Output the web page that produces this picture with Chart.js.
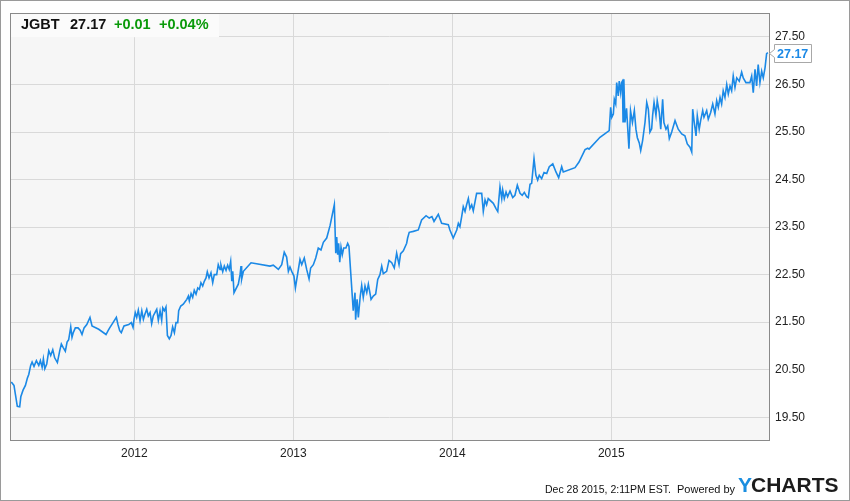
<!DOCTYPE html>
<html>
<head>
<meta charset="utf-8">
<script src="https://cdn.jsdelivr.net/npm/chart.js@4.4.1/dist/chart.umd.min.js"></script>
<style>
html,body{margin:0;padding:0;background:#fff;}
canvas{display:block;}
</style>
</head>
<body>
<canvas id="c" width="850" height="501"></canvas>
<script>
// ---- data (decimal years, JGBT price) ----
const dates2011 = [2011.226,2011.243,2011.252,2011.264,2011.279,2011.286,2011.300,2011.315,2011.327,2011.336,2011.348,2011.357,2011.369,2011.384,2011.399,2011.409,2011.420,2011.428,2011.437,2011.449,2011.462,2011.474,2011.487,2011.499,2011.516,2011.531,2011.541,2011.552,2011.566,2011.577,2011.587,2011.600,2011.608,2011.616,2011.629,2011.646,2011.659,2011.671,2011.684,2011.701,2011.721,2011.734,2011.776,2011.822,2011.835,2011.845,2011.866,2011.887,2011.897,2011.908,2011.918,2011.935,2011.965,2011.981,2011.992,2011.998];
const prices2011 = [20.24,20.17,19.98,19.73,19.72,19.93,20.07,20.17,20.32,20.40,20.59,20.66,20.57,20.69,20.59,20.69,20.55,20.73,20.52,20.62,20.90,20.80,20.92,20.75,20.65,20.90,21.04,20.97,20.89,21.08,21.13,21.40,21.18,21.28,21.38,21.38,21.33,21.24,21.38,21.45,21.60,21.42,21.35,21.24,21.32,21.38,21.49,21.60,21.45,21.32,21.28,21.42,21.45,21.49,21.39,21.56];

const dates2012 = [2012.006,2012.015,2012.025,2012.036,2012.047,2012.057,2012.067,2012.078,2012.088,2012.099,2012.109,2012.119,2012.130,2012.141,2012.151,2012.162,2012.172,2012.179,2012.189,2012.199,2012.208,2012.220,2012.231,2012.241,2012.252,2012.262,2012.273,2012.279,2012.292,2012.308,2012.319,2012.330,2012.340,2012.346,2012.357,2012.367,2012.377,2012.388,2012.399,2012.409,2012.419,2012.430,2012.440,2012.451,2012.459,2012.470,2012.482,2012.493,2012.503,2012.518,2012.528,2012.539,2012.545,2012.556,2012.566,2012.577,2012.587,2012.597,2012.606,2012.613,2012.619,2012.627,2012.654,2012.665,2012.671,2012.675,2012.686,2012.734,2012.853,2012.874,2012.906,2012.927,2012.943,2012.958,2012.969,2012.979,2012.990];
const prices2012 = [21.70,21.60,21.75,21.53,21.74,21.56,21.67,21.77,21.63,21.70,21.47,21.63,21.70,21.77,21.54,21.74,21.54,21.80,21.74,21.82,21.22,21.15,21.22,21.40,21.28,21.49,21.49,21.74,21.84,21.88,21.93,21.98,22.05,21.95,22.10,22.02,22.17,22.09,22.22,22.19,22.33,22.26,22.36,22.43,22.56,22.43,22.54,22.33,22.50,22.50,22.71,22.61,22.70,22.56,22.68,22.59,22.70,22.61,22.78,22.36,22.57,22.12,22.30,22.50,22.68,22.40,22.57,22.75,22.68,22.70,22.61,22.71,22.97,22.87,22.57,22.66,22.57];

const dates2013 = [2013.004,2013.013,2013.025,2013.042,2013.053,2013.069,2013.084,2013.099,2013.109,2013.126,2013.141,2013.157,2013.174,2013.189,2013.210,2013.231,2013.258,2013.267,2013.273,2013.279,2013.285,2013.292,2013.300,2013.308,2013.317,2013.331,2013.342,2013.350,2013.377,2013.388,2013.392,2013.401,2013.409,2013.421,2013.430,2013.440,2013.451,2013.462,2013.472,2013.489,2013.503,2013.518,2013.531,2013.545,2013.556,2013.566,2013.587,2013.602,2013.619,2013.635,2013.650,2013.665,2013.675,2013.692,2013.713,2013.719,2013.729,2013.755,2013.786,2013.807,2013.835,2013.855,2013.872,2013.885,2013.912,2013.933,2013.975,2013.985];
const prices2013 = [22.47,22.22,22.47,22.82,22.71,22.85,22.61,22.41,22.64,22.71,22.85,23.06,23.02,23.18,23.27,23.53,23.97,22.95,23.29,22.92,23.16,22.76,23.08,22.92,23.06,23.06,23.16,23.10,21.74,22.12,21.55,21.98,21.60,22.05,22.27,22.02,22.26,22.12,22.30,21.98,22.05,22.09,22.40,22.50,22.68,22.52,22.57,22.80,22.75,22.64,22.95,22.71,22.94,23.00,23.16,23.27,23.39,23.41,23.44,23.65,23.74,23.69,23.72,23.62,23.77,23.58,23.55,23.44];

const dates2014 = [2014.006,2014.028,2014.038,2014.048,2014.059,2014.069,2014.080,2014.090,2014.101,2014.111,2014.122,2014.132,2014.153,2014.185,2014.195,2014.206,2014.216,2014.226,2014.258,2014.275,2014.286,2014.300,2014.311,2014.317,2014.327,2014.338,2014.348,2014.363,2014.380,2014.394,2014.409,2014.426,2014.440,2014.453,2014.468,2014.478,2014.489,2014.499,2014.514,2014.526,2014.537,2014.547,2014.562,2014.577,2014.594,2014.610,2014.632,2014.652,2014.669,2014.688,2014.698,2014.772,2014.797,2014.835,2014.852,2014.860,2014.929,2014.987,2014.996];
const prices2014 = [23.27,23.44,23.58,23.51,23.72,23.93,23.83,23.97,24.10,23.89,23.97,23.84,24.21,24.21,23.83,24.07,23.97,24.10,24.00,23.89,23.83,24.35,24.10,24.28,24.10,24.24,24.14,24.26,24.12,24.17,24.38,24.21,24.17,24.23,24.14,24.12,24.40,24.42,24.94,24.59,24.49,24.59,24.52,24.65,24.63,24.77,24.83,24.66,24.54,24.77,24.66,24.75,24.87,25.13,25.16,25.14,25.39,25.53,26.02];

const dates2015 = [2015.003,2015.013,2015.019,2015.028,2015.034,2015.044,2015.050,2015.059,2015.065,2015.070,2015.074,2015.079,2015.086,2015.096,2015.111,2015.121,2015.133,2015.145,2015.155,2015.164,2015.176,2015.185,2015.197,2015.212,2015.223,2015.233,2015.243,2015.254,2015.260,2015.269,2015.281,2015.289,2015.302,2015.311,2015.323,2015.331,2015.344,2015.355,2015.365,2015.380,2015.401,2015.421,2015.443,2015.463,2015.478,2015.495,2015.506,2015.512,2015.522,2015.533,2015.541,2015.553,2015.562,2015.575,2015.583,2015.600,2015.610,2015.625,2015.638,2015.652,2015.663,2015.673,2015.684,2015.694,2015.704,2015.715,2015.726,2015.736,2015.747,2015.757,2015.767,2015.778,2015.789,2015.805,2015.820,2015.830,2015.847,2015.872,2015.883,2015.893,2015.904,2015.914,2015.924,2015.935,2015.946,2015.956,2015.967,2015.977,2015.985];
const prices2015 = [25.81,25.88,26.19,26.09,26.54,26.26,26.57,26.33,26.54,26.57,25.72,26.61,25.70,26.00,25.15,25.95,25.70,25.95,25.56,25.38,25.27,25.11,25.32,25.70,26.12,25.98,25.50,25.57,25.85,26.12,25.85,26.16,25.91,25.56,26.19,25.70,25.56,25.63,25.36,25.50,25.74,25.56,25.46,25.42,25.25,25.18,25.08,25.98,25.70,25.42,25.84,25.56,25.74,25.95,25.81,25.95,25.77,25.91,26.09,25.88,26.16,26.02,26.23,26.09,26.37,26.23,26.50,26.30,26.47,26.37,26.68,26.44,26.64,26.57,26.76,26.64,26.54,26.54,26.68,26.33,26.82,26.47,26.92,26.54,26.78,26.64,26.85,27.15,27.17];

const yTicks = [19.5,20.5,21.5,22.5,23.5,24.5,25.5,26.5,27.5];
const xTicks = [2012,2013,2014,2015];
const ticker = 'JGBT';
const lastPrice = 27.17;
const change = '+0.01';
const changePct = '+0.04%';
const stamp = 'Dec 28 2015, 2:11PM EST.';

const allDates = [].concat(dates2011, dates2012, dates2013, dates2014, dates2015);
const allPrices = [].concat(prices2011, prices2012, prices2013, prices2014, prices2015);
const points = allDates.map((d, i) => ({x: d, y: allPrices[i]}));

const FONT = "'Liberation Sans', Arial, sans-serif";
const BLUE = 'rgb(27,137,230)';

const decor = {
  id: 'decor',
  beforeDraw(chart) {
    const ctx = chart.ctx, a = chart.chartArea;
    ctx.save();
    ctx.fillStyle = '#ffffff';
    ctx.fillRect(0, 0, chart.width, chart.height);
    ctx.fillStyle = '#f6f6f6';
    ctx.fillRect(a.left, a.top, a.right - a.left, a.bottom - a.top);
    ctx.restore();
  },
  afterDraw(chart) {
    const ctx = chart.ctx, a = chart.chartArea;
    ctx.save();
    // plot border
    ctx.strokeStyle = '#8a8a8a';
    ctx.lineWidth = 1;
    ctx.strokeRect(Math.round(a.left) + 0.5, Math.round(a.top) + 0.5, Math.round(a.right - a.left), Math.round(a.bottom - a.top) - 1);
    // header box
    ctx.fillStyle = '#fbfbfb';
    ctx.fillRect(a.left + 1, a.top + 1, 208, 23);
    ctx.textBaseline = 'alphabetic';
    ctx.textAlign = 'left';
    ctx.font = 'bold 14.5px ' + FONT;
    ctx.fillStyle = '#111';
    ctx.fillText(ticker, 21, 29);
    ctx.fillText(lastPrice.toFixed(2), 70, 29);
    ctx.fillStyle = '#0a9a0a';
    ctx.fillText(change, 114, 29);
    ctx.fillText(changePct, 159, 29);
    // last value label
    const yS = chart.scales.y;
    const py = Math.round(yS.getPixelForValue(lastPrice)) + 0.5;
    const bx = 774.5, bw = 37, bh = 18;
    ctx.beginPath();
    ctx.moveTo(769.5, py);
    ctx.lineTo(bx, py - 4);
    ctx.lineTo(bx, py - bh / 2);
    ctx.lineTo(bx + bw, py - bh / 2);
    ctx.lineTo(bx + bw, py + bh / 2);
    ctx.lineTo(bx, py + bh / 2);
    ctx.lineTo(bx, py + 4);
    ctx.closePath();
    ctx.fillStyle = '#ffffff';
    ctx.fill();
    ctx.strokeStyle = '#a8a8a8';
    ctx.stroke();
    ctx.fillStyle = BLUE;
    ctx.font = 'bold 12.5px ' + FONT;
    ctx.textBaseline = 'middle';
    ctx.fillText(lastPrice.toFixed(2), 777, py + 1);
    // footer
    ctx.textBaseline = 'alphabetic';
    ctx.font = '10.5px ' + FONT;
    ctx.fillStyle = '#111';
    ctx.fillText(stamp, 545, 493);
    ctx.font = '11px ' + FONT;
    ctx.fillText('Powered by', 677, 493);
    ctx.font = 'bold 21px ' + FONT;
    ctx.fillStyle = '#1a8ee0';
    ctx.fillText('Y', 738, 492);
    const yw = ctx.measureText('Y').width;
    ctx.fillStyle = '#1c1c1c';
    ctx.fillText('CHARTS', 738 + yw - 1, 492);
    // outer frame
    ctx.strokeStyle = '#9a9a9a';
    ctx.strokeRect(0.5, 0.5, chart.width - 1, chart.height - 1);
    ctx.restore();
  }
};

new Chart(document.getElementById('c'), {
  type: 'line',
  data: {
    datasets: [{
      data: points,
      borderColor: BLUE,
      borderWidth: 1.6,
      pointRadius: 0,
      tension: 0,
      fill: false
    }]
  },
  options: {
    responsive: false,
    animation: false,
    parsing: true,
    layout: {padding: {left: 10, top: 10, right: 0, bottom: 0}},
    plugins: {legend: {display: false}, tooltip: {enabled: false}},
    scales: {
      x: {
        type: 'linear',
        min: 2011.218,
        max: 2015.992,
        afterBuildTicks: s => { s.ticks = xTicks.map(v => ({value: v})); },
        afterFit: s => { s.height = 60; },
        grid: {color: '#d9d9d9', drawTicks: false, lineWidth: 1},
        border: {display: false},
        ticks: {
          padding: 5, maxRotation: 0, autoSkip: false,
          color: '#222', font: {family: FONT, size: 12},
          callback: v => String(v)
        }
      },
      y: {
        position: 'right',
        min: 19.0,
        max: 28.0,
        afterBuildTicks: s => { s.ticks = yTicks.map(v => ({value: v})); },
        afterFit: s => { s.width = 81; },
        grid: {color: '#d9d9d9', drawTicks: false, lineWidth: 1},
        border: {display: false},
        ticks: {
          padding: 6, autoSkip: false,
          color: '#222', font: {family: FONT, size: 12},
          callback: v => Number(v).toFixed(2)
        }
      }
    }
  },
  plugins: [decor]
});
</script>
</body>
</html>
